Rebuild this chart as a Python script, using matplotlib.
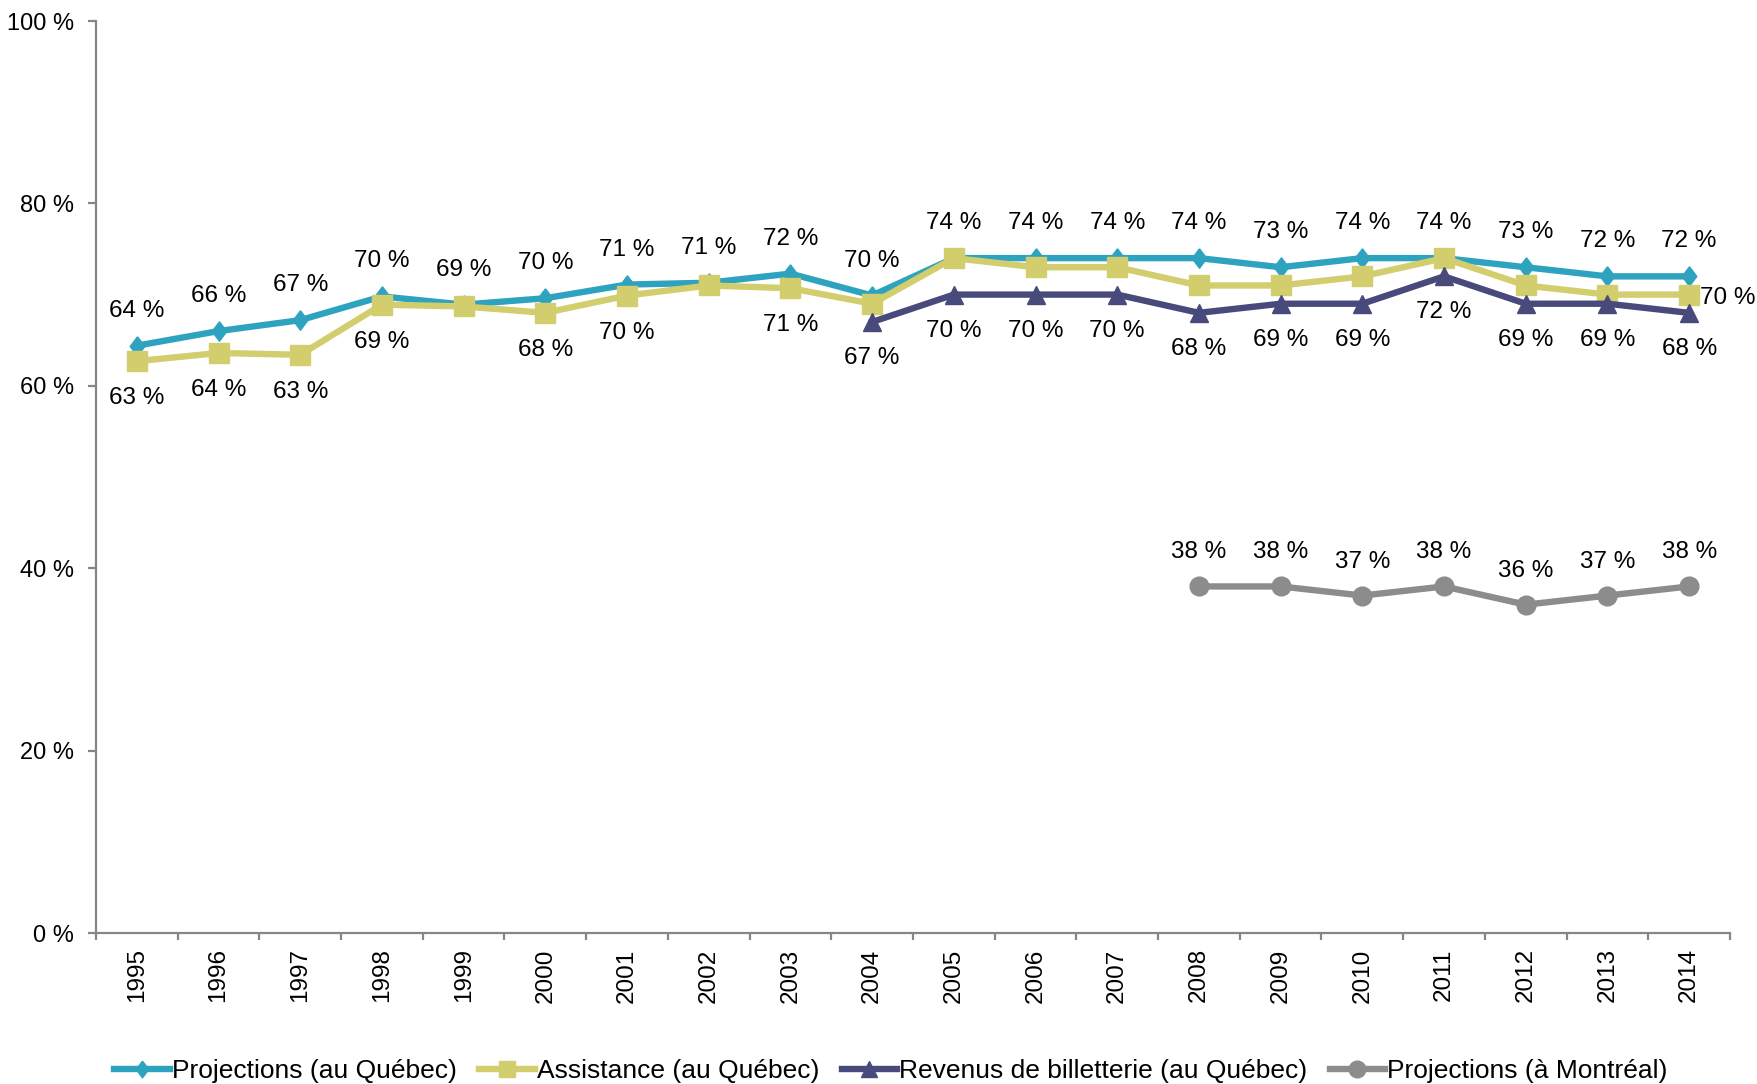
import numpy as np
import matplotlib
matplotlib.use("Agg")
import matplotlib.pyplot as plt
from matplotlib.lines import Line2D

plt.rcParams["font.family"] = ["Liberation Sans", "DejaVu Sans"]

# data (percent)
years = list(range(1995, 2015))
proj_qc = [64.4, 66.0, 67.2, 69.8, 68.9, 69.6, 71.1, 71.3, 72.3, 69.9,
           74, 74, 74, 74, 73, 74, 74, 73, 72, 72]
proj_qc_lbl = [64, 66, 67, 70, 69, 70, 71, 71, 72, 70,
               74, 74, 74, 74, 73, 74, 74, 73, 72, 72]
assist_qc = [62.7, 63.6, 63.4, 68.9, 68.7, 68.0, 69.9, 71.0, 70.7, 69.0,
             74, 73, 73, 71, 71, 72, 74, 71, 70, 70]
# labels shown for assistance (None = hidden in the original)
assist_lbl = [63, 64, 63, 69, None, 68, 70, None, 71, None,
              None, None, None, None, None, None, None, None, None, 70]
revenus_qc = [None] * 9 + [67, 70, 70, 70, 68, 69, 69, 72, 69, 69, 68]
proj_mtl = [None] * 13 + [38, 38, 37, 38, 36, 37, 38]

names = ["Projections (au Québec)", "Assistance (au Québec)",
         "Revenus de billetterie (au Québec)", "Projections (à Montréal)"]
colors = ["#2ea3c0", "#d2ce6e", "#474a7b", "#8c8c8c"]

# elongated diamond like the spreadsheet one
diamond = [(0, 1), (0.75, 0), (0, -1), (-0.75, 0), (0, 1)]

fig = plt.figure(figsize=(17.58, 10.84), dpi=100)
ax = fig.add_axes([96 / 1758, 1 - 933 / 1084, (1730 - 96) / 1758, (933 - 21) / 1084])

x = np.arange(len(years))


def to_arr(vals):
    return np.array([np.nan if v is None else v for v in vals], dtype=float)


lw = 4.6
ax.plot(x, to_arr(proj_qc), color=colors[0], lw=lw, marker=diamond, ms=14, zorder=3)
ax.plot(x, to_arr(assist_qc), color=colors[1], lw=lw, marker="s", ms=14, zorder=4)
ax.plot(x, to_arr(revenus_qc), color=colors[2], lw=lw, marker="^", ms=13.5, zorder=5)
ax.plot(x, to_arr(proj_mtl), color=colors[3], lw=lw, marker="o", ms=13.5, zorder=3)

fs = 17.5
lab = dict(fontsize=fs, ha="center", va="center", textcoords="offset pixels", color="#000000")

for i, v in enumerate(proj_qc):
    ax.annotate(f"{proj_qc_lbl[i]} %", (x[i], v), xytext=(0, 35), **lab)

for i, v in enumerate(assist_qc):
    if assist_lbl[i] is None:
        continue
    if i == len(years) - 1:
        ax.annotate(f"{assist_lbl[i]} %", (x[i], v), xytext=(11, -3),
                    fontsize=fs, ha="left", va="center", textcoords="offset pixels")
    else:
        ax.annotate(f"{assist_lbl[i]} %", (x[i], v), xytext=(0, -37), **lab)

for i, v in enumerate(revenus_qc):
    if v is not None:
        ax.annotate(f"{v} %", (x[i], v), xytext=(0, -36), **lab)

for i, v in enumerate(proj_mtl):
    if v is not None:
        ax.annotate(f"{v} %", (x[i], v), xytext=(0, 34), **lab)

# axes styling
ax.set_xlim(-0.5, len(years) - 0.5)
ax.set_ylim(0, 100)
for s in ["top", "right"]:
    ax.spines[s].set_visible(False)
for s in ["left", "bottom"]:
    ax.spines[s].set_color("#868686")
    ax.spines[s].set_linewidth(1.6)

ax.set_yticks(range(0, 101, 20))
ax.set_yticklabels([f"{v} %" for v in range(0, 101, 20)])
ax.tick_params(axis="y", length=6, width=1.6, color="#868686", pad=10, labelsize=17)

ax.set_xticks(np.arange(-0.5, len(years), 1.0))
ax.set_xticklabels([])
ax.set_xticks(x, minor=True)
ax.set_xticklabels([str(y) for y in years], minor=True, rotation=90, fontsize=17.5)
ax.tick_params(axis="x", which="major", length=5, width=1.6, color="#868686")
ax.tick_params(axis="x", which="minor", length=0, pad=11)

# legend along the bottom
handles = [
    Line2D([], [], color=colors[0], lw=lw, marker=diamond, ms=12),
    Line2D([], [], color=colors[1], lw=lw, marker="s", ms=12),
    Line2D([], [], color=colors[2], lw=lw, marker="^", ms=12),
    Line2D([], [], color=colors[3], lw=lw, marker="o", ms=12),
]
fig.legend(handles, names, loc="center", bbox_to_anchor=(891 / 1758, 1 - 1071 / 1084),
           ncol=4, frameon=False, fontsize=19, handlelength=2.1, handletextpad=0.08,
           columnspacing=0.85, borderaxespad=0)

fig.savefig("out.png", dpi=100)
